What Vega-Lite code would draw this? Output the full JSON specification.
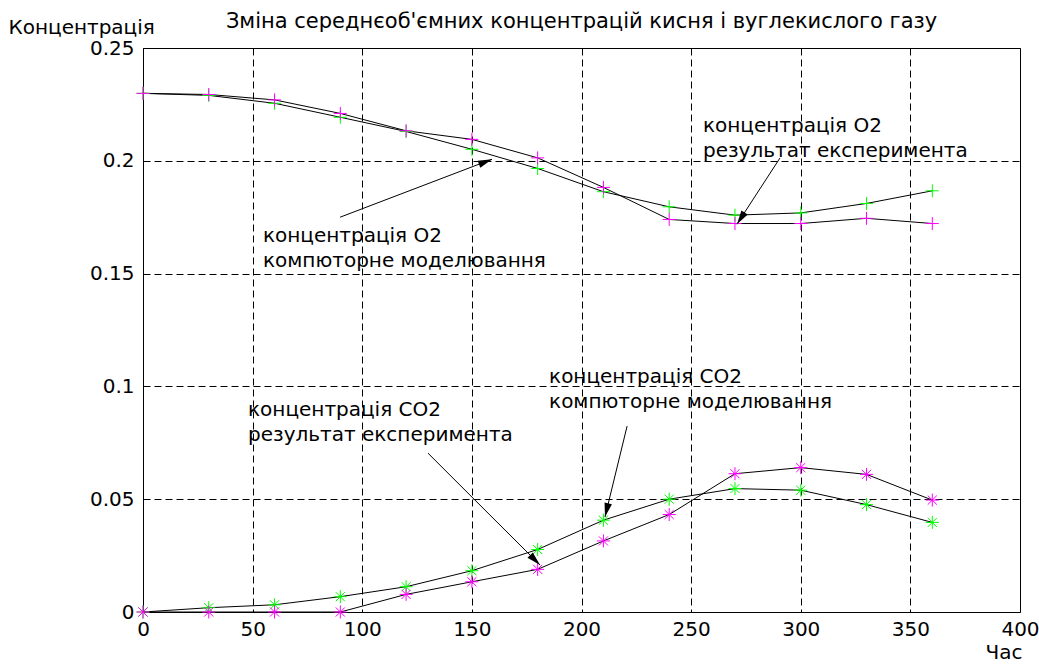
{
  "$schema": "https://vega.github.io/schema/vega-lite/v6.json",
  "width": 877,
  "height": 564,
  "autosize": {"type": "none"},
  "padding": {"left": 143, "top": 48, "right": 19, "bottom": 52},
  "background": "white",
  "config": {
    "font": "DejaVu Sans",
    "view": {"stroke": "#000", "strokeWidth": 1},
    "axis": {"labelColor": "#000", "titleColor": "#000", "labelFontSize": 20, "titleFontSize": 20, "titleFontWeight": "normal", "gridColor": "#000", "gridDash": [7, 4], "gridWidth": 1, "gridOpacity": 1, "ticks": false, "domain": false, "labelOverlap": false, "labelFlush": false, "grid": true}
  },
  "title": {"text": "Зміна середнєоб'ємних концентрацій кисня і вуглекислого газу", "fontSize": 21, "fontWeight": "normal", "color": "#000", "anchor": "middle", "frame": "group", "offset": -32, "baseline": "alphabetic"},
  "datasets": {
    "series": [
      {"t": 0, "gas": "O2", "source": "модель", "conc": 0.2299},
      {"t": 30, "gas": "O2", "source": "модель", "conc": 0.229},
      {"t": 60, "gas": "O2", "source": "модель", "conc": 0.2255},
      {"t": 90, "gas": "O2", "source": "модель", "conc": 0.2193},
      {"t": 120, "gas": "O2", "source": "модель", "conc": 0.213},
      {"t": 150, "gas": "O2", "source": "модель", "conc": 0.2051},
      {"t": 180, "gas": "O2", "source": "модель", "conc": 0.1966},
      {"t": 210, "gas": "O2", "source": "модель", "conc": 0.1863},
      {"t": 240, "gas": "O2", "source": "модель", "conc": 0.1796},
      {"t": 270, "gas": "O2", "source": "модель", "conc": 0.1759},
      {"t": 300, "gas": "O2", "source": "модель", "conc": 0.1769},
      {"t": 330, "gas": "O2", "source": "модель", "conc": 0.1811},
      {"t": 360, "gas": "O2", "source": "модель", "conc": 0.1867},
      {"t": 0, "gas": "CO2", "source": "модель", "conc": 0},
      {"t": 30, "gas": "CO2", "source": "модель", "conc": 0.0019},
      {"t": 60, "gas": "CO2", "source": "модель", "conc": 0.0032},
      {"t": 90, "gas": "CO2", "source": "модель", "conc": 0.0068},
      {"t": 120, "gas": "CO2", "source": "модель", "conc": 0.0112},
      {"t": 150, "gas": "CO2", "source": "модель", "conc": 0.0183},
      {"t": 180, "gas": "CO2", "source": "модель", "conc": 0.0277},
      {"t": 210, "gas": "CO2", "source": "модель", "conc": 0.0407},
      {"t": 240, "gas": "CO2", "source": "модель", "conc": 0.05},
      {"t": 270, "gas": "CO2", "source": "модель", "conc": 0.0547},
      {"t": 300, "gas": "CO2", "source": "модель", "conc": 0.054},
      {"t": 330, "gas": "CO2", "source": "модель", "conc": 0.0476},
      {"t": 360, "gas": "CO2", "source": "модель", "conc": 0.0397},
      {"t": 0, "gas": "O2", "source": "експеримент", "conc": 0.2299},
      {"t": 30, "gas": "O2", "source": "експеримент", "conc": 0.2294},
      {"t": 60, "gas": "O2", "source": "експеримент", "conc": 0.227},
      {"t": 90, "gas": "O2", "source": "експеримент", "conc": 0.221},
      {"t": 120, "gas": "O2", "source": "експеримент", "conc": 0.2133},
      {"t": 150, "gas": "O2", "source": "експеримент", "conc": 0.2095},
      {"t": 180, "gas": "O2", "source": "експеримент", "conc": 0.2013},
      {"t": 210, "gas": "O2", "source": "експеримент", "conc": 0.1882},
      {"t": 240, "gas": "O2", "source": "експеримент", "conc": 0.174},
      {"t": 270, "gas": "O2", "source": "експеримент", "conc": 0.1722},
      {"t": 300, "gas": "O2", "source": "експеримент", "conc": 0.1722},
      {"t": 330, "gas": "O2", "source": "експеримент", "conc": 0.1745},
      {"t": 360, "gas": "O2", "source": "експеримент", "conc": 0.1722},
      {"t": 0, "gas": "CO2", "source": "експеримент", "conc": 0},
      {"t": 30, "gas": "CO2", "source": "експеримент", "conc": 0},
      {"t": 60, "gas": "CO2", "source": "експеримент", "conc": 0},
      {"t": 90, "gas": "CO2", "source": "експеримент", "conc": 0},
      {"t": 120, "gas": "CO2", "source": "експеримент", "conc": 0.0078},
      {"t": 150, "gas": "CO2", "source": "експеримент", "conc": 0.0134},
      {"t": 180, "gas": "CO2", "source": "експеримент", "conc": 0.0189},
      {"t": 210, "gas": "CO2", "source": "експеримент", "conc": 0.0315},
      {"t": 240, "gas": "CO2", "source": "експеримент", "conc": 0.0432},
      {"t": 270, "gas": "CO2", "source": "експеримент", "conc": 0.0613},
      {"t": 300, "gas": "CO2", "source": "експеримент", "conc": 0.064},
      {"t": 330, "gas": "CO2", "source": "експеримент", "conc": 0.061},
      {"t": 360, "gas": "CO2", "source": "експеримент", "conc": 0.0496}
    ],
    "notes": [
      {"id": 1, "label": "концентрація O2\nкомпюторне моделювання", "tx": 54.7, "ty": 0.1641, "x1": 89.9, "y1": 0.175, "x2": 159.2, "y2": 0.2007},
      {"id": 2, "label": "концентрація O2\nрезультат експеримента", "tx": 255.4, "ty": 0.2128, "x1": 290.5, "y1": 0.2012, "x2": 270.9, "y2": 0.1719},
      {"id": 3, "label": "концентрація CO2\nрезультат експеримента", "tx": 47.9, "ty": 0.087, "x1": 130, "y1": 0.0704, "x2": 181.1, "y2": 0.0208},
      {"id": 4, "label": "концентрація CO2\nкомпюторне моделювання", "tx": 185.2, "ty": 0.1013, "x1": 220.8, "y1": 0.0824, "x2": 210.7, "y2": 0.0421}
    ]
  },
  "layer": [
    {
      "data": {"name": "series"},
      "mark": {"type": "line", "color": "#000", "strokeWidth": 1},
      "encoding": {
        "x": {"field": "t", "type": "quantitative", "title": "Час", "scale": {"domain": [0, 400], "nice": false, "zero": false},
          "axis": {"values": [0, 50, 100, 150, 200, 250, 300, 350, 400], "grid": true, "labelPadding": 7, "title": "Час", "titleX": 842, "titleY": 46, "titleAlign": "left", "titleBaseline": "alphabetic", "titleAnchor": null}},
        "y": {"field": "conc", "type": "quantitative", "title": "Концентрація", "scale": {"domain": [0, 0.25], "nice": false},
          "axis": {"values": [0, 0.05, 0.1, 0.15, 0.2, 0.25], "format": "~g", "grid": true, "labelPadding": 9, "title": "Концентрація", "titleAngle": 0, "titleX": -135, "titleY": -15, "titleAlign": "left", "titleBaseline": "alphabetic", "titleAnchor": null}},
        "detail": [{"field": "gas"}, {"field": "source"}]
      }
    },
    {
      "data": {"name": "series"},
      "mark": {"type": "point", "filled": false, "strokeWidth": 1, "opacity": 1},
      "encoding": {
        "x": {"field": "t", "type": "quantitative", "title": "Час"},
        "y": {"field": "conc", "type": "quantitative", "title": "Концентрація"},
        "color": {"field": "source", "type": "nominal", "legend": null, "scale": {"domain": ["модель", "експеримент"], "range": ["#00ff00", "#ff00ff"]}},
        "shape": {"field": "gas", "type": "nominal", "legend": null, "scale": {"domain": ["O2", "CO2"], "range": ["M-1,0L1,0M0,-1L0,1", "M-1,0L1,0M0,-1L0,1M-0.7,-0.7L0.7,0.7M-0.7,0.7L0.7,-0.7"]}},
        "size": {"value": 169}
      }
    },
    {
      "data": {"name": "notes"},
      "mark": {"type": "rule", "color": "#000", "strokeWidth": 1},
      "encoding": {
        "x": {"field": "x1", "type": "quantitative", "title": "Час"},
        "y": {"field": "y1", "type": "quantitative", "title": "Концентрація"},
        "x2": {"field": "x2"},
        "y2": {"field": "y2"}
      }
    },
    {
      "data": {"name": "notes"},
      "mark": {"type": "text", "align": "left", "baseline": "alphabetic", "fontSize": 20, "lineBreak": "\n", "lineHeight": 25, "color": "#000"},
      "encoding": {
        "x": {"field": "tx", "type": "quantitative", "title": "Час"},
        "y": {"field": "ty", "type": "quantitative", "title": "Концентрація"},
        "text": {"field": "label"}
      }
    },
    {
      "data": {"name": "notes"},
      "transform": [{"filter": "datum.id == 1"}],
      "mark": {"type": "point", "shape": "M0,0L0.27,1L-0.27,1Z", "filled": true, "color": "#000", "size": 784, "angle": 69.1, "opacity": 1},
      "encoding": {"x": {"field": "x2", "type": "quantitative", "title": "Час"}, "y": {"field": "y2", "type": "quantitative", "title": "Концентрація"}}
    },
    {
      "data": {"name": "notes"},
      "transform": [{"filter": "datum.id == 2"}],
      "mark": {"type": "point", "shape": "M0,0L0.27,1L-0.27,1Z", "filled": true, "color": "#000", "size": 784, "angle": 213.1, "opacity": 1},
      "encoding": {"x": {"field": "x2", "type": "quantitative", "title": "Час"}, "y": {"field": "y2", "type": "quantitative", "title": "Концентрація"}}
    },
    {
      "data": {"name": "notes"},
      "transform": [{"filter": "datum.id == 3"}],
      "mark": {"type": "point", "shape": "M0,0L0.27,1L-0.27,1Z", "filled": true, "color": "#000", "size": 784, "angle": 135, "opacity": 1},
      "encoding": {"x": {"field": "x2", "type": "quantitative", "title": "Час"}, "y": {"field": "y2", "type": "quantitative", "title": "Концентрація"}}
    },
    {
      "data": {"name": "notes"},
      "transform": [{"filter": "datum.id == 4"}],
      "mark": {"type": "point", "shape": "M0,0L0.27,1L-0.27,1Z", "filled": true, "color": "#000", "size": 784, "angle": 193.6, "opacity": 1},
      "encoding": {"x": {"field": "x2", "type": "quantitative", "title": "Час"}, "y": {"field": "y2", "type": "quantitative", "title": "Концентрація"}}
    }
  ]
}
